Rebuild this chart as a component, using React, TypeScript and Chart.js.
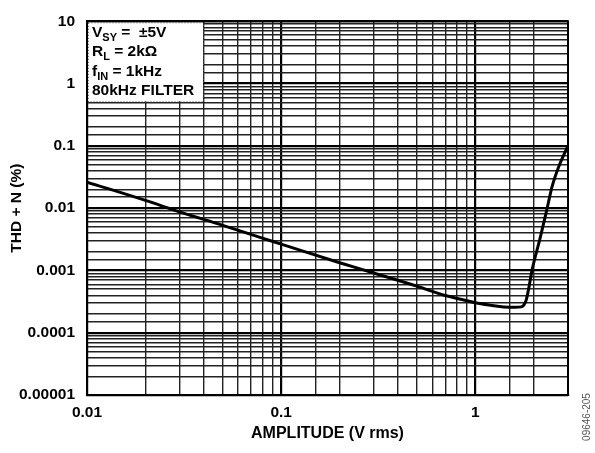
import React, { useEffect, useRef } from 'react';
import { Chart, registerables } from 'chart.js';

Chart.register(...registerables);

// Data
const amplitude = [0.01, 0.02, 0.03, 0.05, 0.08, 0.1, 0.2, 0.3, 0.5, 0.7, 0.84, 1.0, 1.2, 1.4, 1.6, 1.72, 1.78, 1.83, 1.88, 1.96, 2.16, 2.32, 2.49, 2.69, 3.0];
const thdn = [0.0262, 0.0133, 0.0087, 0.0053, 0.0033, 0.00265, 0.00133, 0.00091, 0.00056, 0.000395, 0.000345, 0.000302, 0.000275, 0.000258, 0.000256, 0.00026, 0.00028, 0.00034, 0.0005, 0.00102, 0.0034, 0.0087, 0.0227, 0.0465, 0.101];

const xTickValues = [0.01, 0.1, 1];
const xTickLabels = ['0.01', '0.1', '1'];
const yTickValues = [0.00001, 0.0001, 0.001, 0.01, 0.1, 1, 10];
const yTickLabels = ['0.00001', '0.0001', '0.001', '0.01', '0.1', '1', '10'];

const xTitle = 'AMPLITUDE (V rms)';
const yTitle = 'THD + N (%)';
const figureCode = '09646-205';

// [text, isSubscript]
const legendLines: [string, boolean][][] = [
  [['V', false], ['SY', true], [' =  ±5V', false]],
  [['R', false], ['L', true], [' = 2kΩ', false]],
  [['f', false], ['IN', true], [' = 1kHz', false]],
  [['80kHz FILTER', false]],
];

const FONT = "'Liberation Sans', Arial, sans-serif";

const findLabel = (v: number, vals: number[], labels: string[]) => {
  for (let i = 0; i < vals.length; i++) {
    if (Math.abs(Math.log10(v) - Math.log10(vals[i])) < 1e-6) return labels[i];
  }
  return '';
};
const isDecade = (v: number) => {
  const l = Math.log10(v);
  return Math.abs(l - Math.round(l)) < 1e-6;
};

const overlayPlugin = {
  id: 'overlay',
  beforeDatasetsDraw(chart: any) {
    const { ctx, chartArea } = chart;
    const x0 = chartArea.left + 1;
    const y0 = chartArea.top + 1;
    const w = 115;
    const h = 79;
    ctx.save();
    ctx.fillStyle = '#fff';
    ctx.fillRect(x0, y0, w, h);
    ctx.setLineDash([1, 2]);
    ctx.strokeStyle = '#555';
    ctx.lineWidth = 1;
    ctx.strokeRect(x0 + 0.5, y0 + 0.5, w, h);
    ctx.setLineDash([]);
    ctx.fillStyle = '#000';
    ctx.textBaseline = 'alphabetic';
    ctx.textAlign = 'left';
    legendLines.forEach((line, i) => {
      let x = chartArea.left + 5;
      const baseY = chartArea.top + 15.5 + i * 19.5;
      line.forEach(([t, sub]) => {
        ctx.font = sub ? `bold 11px ${FONT}` : `bold 15.5px ${FONT}`;
        ctx.fillText(t, x, sub ? baseY + 4 : baseY);
        x += ctx.measureText(t).width;
      });
    });
    ctx.restore();
  },
  afterDraw(chart: any) {
    const { ctx, chartArea } = chart;
    ctx.save();
    ctx.strokeStyle = '#000';
    ctx.lineWidth = 2;
    ctx.strokeRect(chartArea.left, chartArea.top, chartArea.right - chartArea.left, chartArea.bottom - chartArea.top);
    ctx.translate(587, 417);
    ctx.rotate(-Math.PI / 2);
    ctx.font = `10px ${FONT}`;
    ctx.fillStyle = '#555';
    ctx.textAlign = 'center';
    ctx.textBaseline = 'middle';
    ctx.fillText(figureCode, 0, 0);
    ctx.restore();
  },
};

const gridColor = (c: any) => (c.tick && isDecade(c.tick.value) ? '#000' : '#222');
const gridWidth = (c: any) => (c.tick && isDecade(c.tick.value) ? 2.2 : 1.4);

export default function App() {
  const ref = useRef<HTMLCanvasElement>(null);
  useEffect(() => {
    if (!ref.current) return;
    const chart = new Chart(ref.current, {
      type: 'line',
      data: {
        datasets: [
          {
            data: amplitude.map((x, i) => ({ x, y: thdn[i] })),
            borderColor: '#000',
            borderWidth: 3,
            pointRadius: 0,
            fill: false,
            cubicInterpolationMode: 'monotone',
          },
        ],
      },
      options: {
        animation: false,
        responsive: false,
        maintainAspectRatio: false,
        layout: { padding: { top: 10, right: 27, left: 0, bottom: 0 } },
        plugins: { legend: { display: false }, tooltip: { enabled: false } },
        scales: {
          x: {
            type: 'logarithmic',
            min: 0.01,
            max: 3,
            afterFit: (s: any) => { s.height = 58; },
            border: { display: true, color: '#000', width: 2 },
            grid: { drawTicks: false, color: gridColor, lineWidth: gridWidth },
            ticks: {
              autoSkip: false,
              maxRotation: 0,
              padding: 8,
              color: '#000',
              font: { family: FONT, size: 15.5, weight: 'bold' },
              callback: (v: any) => findLabel(Number(v), xTickValues, xTickLabels),
            },
            title: {
              display: true,
              text: xTitle,
              color: '#000',
              font: { family: FONT, size: 16, weight: 'bold' },
              padding: { top: 0, bottom: 10 },
            },
          },
          y: {
            type: 'logarithmic',
            min: 0.00001,
            max: 10,
            afterFit: (s: any) => { s.width = 87; },
            border: { display: true, color: '#000', width: 2 },
            grid: { drawTicks: false, color: gridColor, lineWidth: gridWidth },
            ticks: {
              autoSkip: false,
              padding: 12,
              color: '#000',
              font: { family: FONT, size: 15.5, weight: 'bold' },
              callback: (v: any) => findLabel(Number(v), yTickValues, yTickLabels),
            },
            title: {
              display: true,
              text: yTitle,
              color: '#000',
              font: { family: FONT, size: 15.5, weight: 'bold' },
              padding: { top: 7, bottom: 0 },
            },
          },
        },
      },
      plugins: [overlayPlugin],
    } as any);
    return () => chart.destroy();
  }, []);
  return (
    <div style={{ position: 'absolute', left: 0, top: 0, width: 595, height: 453, background: '#fff' }}>
      <canvas ref={ref} width={595} height={453} style={{ width: 595, height: 453 }} />
    </div>
  );
}
